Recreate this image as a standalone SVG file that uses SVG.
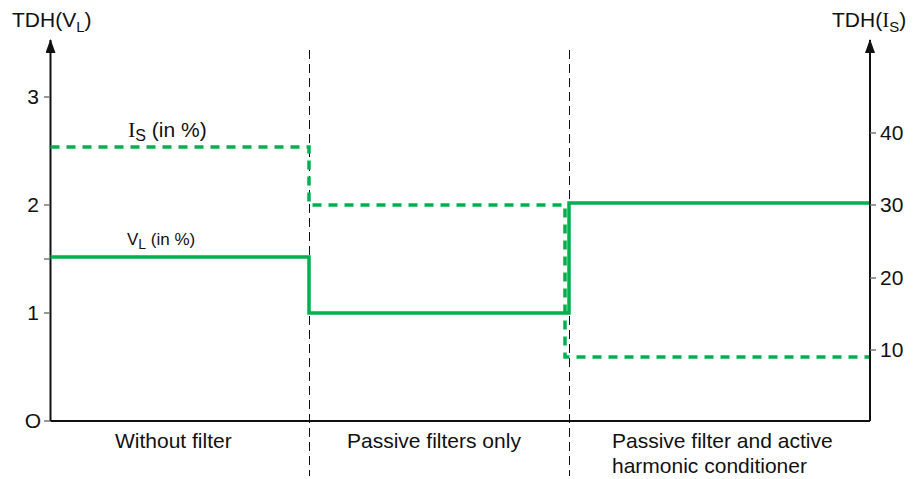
<svg xmlns="http://www.w3.org/2000/svg" width="915" height="479" viewBox="0 0 915 479">
<defs>
<style>
text{font-family:"Liberation Sans",Arial,sans-serif;font-size:21px;fill:#111}
.serif{font-family:"Liberation Serif","Times New Roman",serif}
.axis{stroke:#111;stroke-width:2;fill:none}
.tick{stroke:#777;stroke-width:1.5}
.div{stroke:#111;stroke-width:1;stroke-dasharray:9,5}
.solid{stroke:#00B050;stroke-width:3.5;fill:none}
.dash{stroke:#00B050;stroke-width:3.5;fill:none;stroke-dasharray:9,7}
</style>
<marker id="arr" markerWidth="14" markerHeight="10" refX="13" refY="5" orient="auto" markerUnits="userSpaceOnUse" viewBox="0 0 14 10">
<path d="M0,0 L14,5 L0,10 Z" fill="#111"/>
</marker>
</defs>
<rect width="915" height="479" fill="#fff"/>
<g id="axes">
<line class="axis" x1="50.5" y1="421" x2="50.5" y2="40" marker-end="url(#arr)"/>
<line class="axis" x1="870" y1="421" x2="870" y2="40" marker-end="url(#arr)"/>
<line class="axis" x1="50.5" y1="421" x2="870" y2="421"/>
<line class="tick" x1="44" y1="97" x2="50" y2="97"/>
<line class="tick" x1="44" y1="205" x2="50" y2="205"/>
<line class="tick" x1="44" y1="259" x2="50" y2="259"/>
<line class="tick" x1="44" y1="313" x2="50" y2="313"/>
<line class="tick" x1="44" y1="421" x2="50" y2="421"/>
<line class="tick" x1="870" y1="133" x2="876" y2="133"/>
<line class="tick" x1="870" y1="205" x2="876" y2="205"/>
<line class="tick" x1="870" y1="278" x2="876" y2="278"/>
<line class="tick" x1="870" y1="350" x2="876" y2="350"/>
<text x="12" y="27">TDH(V<tspan style="font-size:15px" dy="5">L</tspan><tspan dy="-5">)</tspan></text>
<text x="832" y="27">TDH(<tspan class="serif">I</tspan><tspan style="font-size:15px" dy="5">S</tspan><tspan dy="-5">)</tspan></text>
<text x="39" y="104" text-anchor="end">3</text>
<text x="39" y="212" text-anchor="end">2</text>
<text x="39" y="320" text-anchor="end">1</text>
<text x="41" y="428" text-anchor="end">O</text>
<text x="880" y="140">40</text>
<text x="880" y="212">30</text>
<text x="880" y="285">20</text>
<text x="880" y="357">10</text>
</g>
<g id="dividers">
<line class="div" x1="309.5" y1="50" x2="309.5" y2="476"/>
<line class="div" x1="569.5" y1="50" x2="569.5" y2="476"/>
</g>
<g id="categories">
<text x="115" y="448">Without filter</text>
<text x="347" y="448">Passive filters only</text>
<text x="612" y="448">Passive filter and active</text>
<text x="612" y="473">harmonic conditioner</text>
</g>
<g id="connectors">
<path id="VL" class="solid" d="M50.5,257 H309 V313 H569 V203 H869"/>
<path id="IS" class="dash" d="M50.5,147 H309 V205 H565 V357 H869"/>
</g>
<g id="labels">
<text x="128" y="137"><tspan class="serif" style="font-size:22px">I</tspan><tspan style="font-size:16px" dy="4">S</tspan><tspan dy="-4"> (in %)</tspan></text>
<text x="127" y="245" style="font-size:17px">V<tspan style="font-size:14px" dy="4">L</tspan><tspan dy="-4"> (in %)</tspan></text>
</g>
</svg>
